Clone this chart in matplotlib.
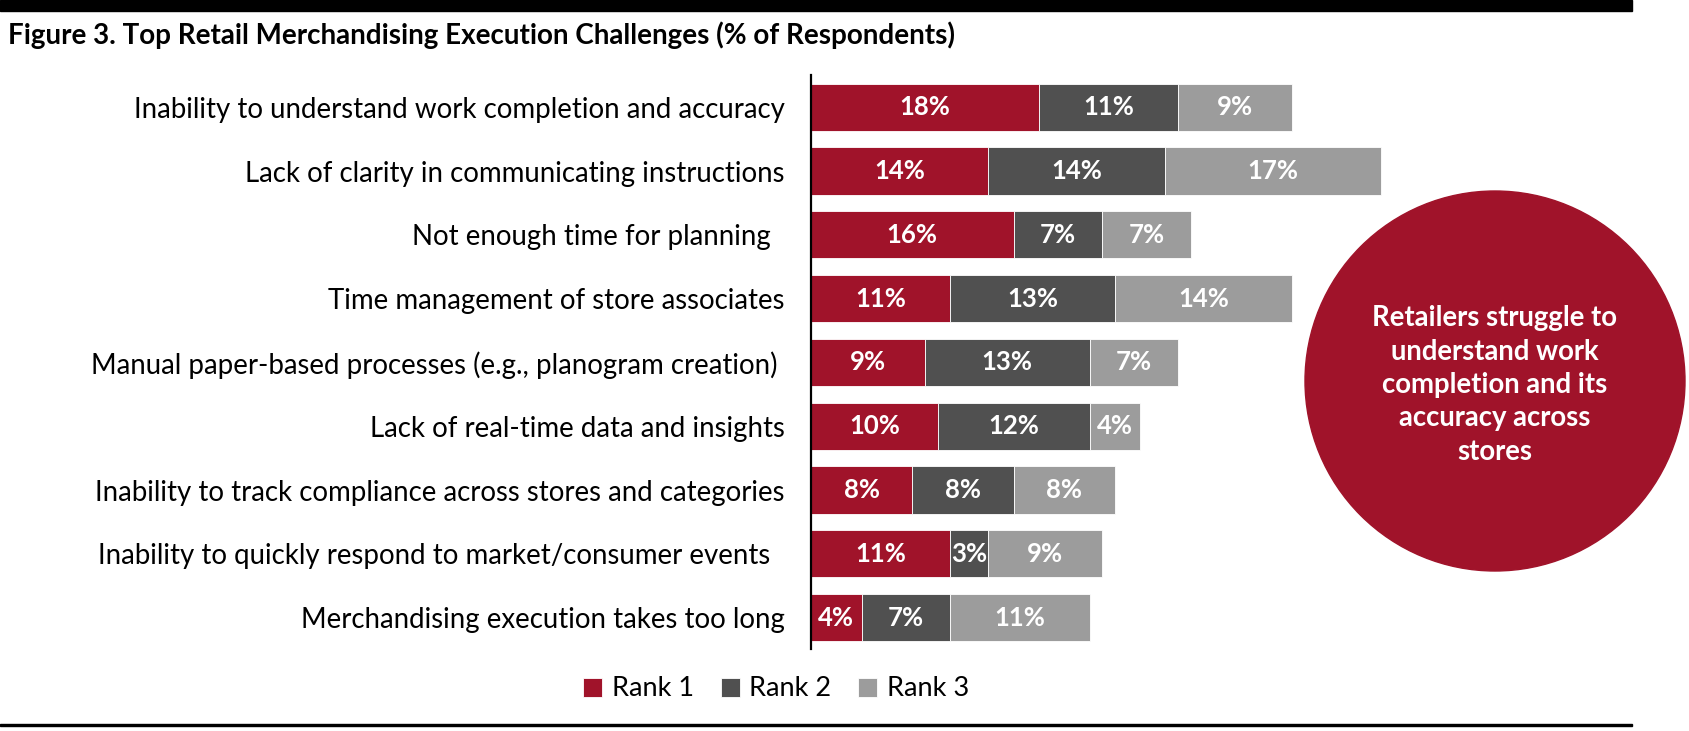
import matplotlib.pyplot as plt
from matplotlib.patches import Circle, Rectangle

plt.rcParams['font.family'] = ['Lato', 'DejaVu Sans']

# data
challenges = [
    'Inability to understand work completion and accuracy',
    'Lack of clarity in communicating instructions',
    'Not enough time for planning  ',
    'Time management of store associates',
    'Manual paper-based processes (e.g., planogram creation) ',
    'Lack of real-time data and insights',
    'Inability to track compliance across stores and categories',
    'Inability to quickly respond to market/consumer events  ',
    'Merchandising execution takes too long',
]
rank1 = [18, 14, 16, 11, 9, 10, 8, 11, 4]
rank2 = [11, 14, 7, 13, 13, 12, 8, 3, 7]
rank3 = [9, 17, 7, 14, 7, 4, 8, 9, 11]
series_names = ['Rank 1', 'Rank 2', 'Rank 3']

title = 'Figure 3. Top Retail Merchandising Execution Challenges (% of Respondents)'
callout = 'Retailers struggle to\nunderstand work\ncompletion and its\naccuracy across\nstores'

RED = '#A0132A'
DARK = '#505050'
LIGHT = '#9C9C9C'
colors = [RED, DARK, LIGHT]

W, H = 1689, 731
fig = plt.figure(figsize=(W / 100, H / 100), dpi=100)

# decorative layer in pixel coords
ov = fig.add_axes([0, 0, 1, 1])
ov.set_xlim(0, W)
ov.set_ylim(H, 0)
ov.axis('off')
ov.add_patch(Rectangle((0, 0), 1632, 11, color='black'))
ov.add_patch(Rectangle((0, 724), 1632, 2, color='black'))
ov.add_patch(Circle((1495, 381), 190, color=RED))
ov.text(1495, 385, callout, color='white', fontsize=19.8, fontweight='bold',
        ha='center', va='center', linespacing=1.35)
ov.text(8, 35, title, fontsize=20, fontweight='bold', ha='left', va='center')

# bar chart
ax = fig.add_axes([811 / W, 0.1115, 633 / W, 0.7854])
ypos = list(range(len(challenges)))
left = [0] * len(challenges)
handles = []
for vals, col, name in zip([rank1, rank2, rank3], colors, series_names):
    bars = ax.barh(ypos, vals, left=left, height=0.74, color=col,
                   edgecolor='white', linewidth=0.6, label=name)
    handles.append(bars)
    for y, l, v in zip(ypos, left, vals):
        ax.text(l + v / 2, y, f'{v}%', color='white', fontsize=18.5,
                fontweight='bold', ha='center', va='center')
    left = [a + b for a, b in zip(left, vals)]

ax.set_xlim(0, 50)
ax.set_ylim(8.5, -0.5)
ax.set_yticks(ypos)
ax.set_yticklabels(challenges, fontsize=19.9)
ax.tick_params(axis='y', length=0, pad=19)
ax.set_xticks([])
for s in ['top', 'right', 'bottom']:
    ax.spines[s].set_visible(False)
ax.spines['left'].set_linewidth(1.6)
ax.spines['left'].set_color('black')
ax.patch.set_alpha(0)

fig.legend(handles, series_names, loc='center', bbox_to_anchor=(776 / W, 42 / H),
           ncol=3, frameon=False, fontsize=19.5, handlelength=0.7,
           handleheight=0.7, handletextpad=0.35, columnspacing=1.0)

fig.savefig('out.png', dpi=100)
